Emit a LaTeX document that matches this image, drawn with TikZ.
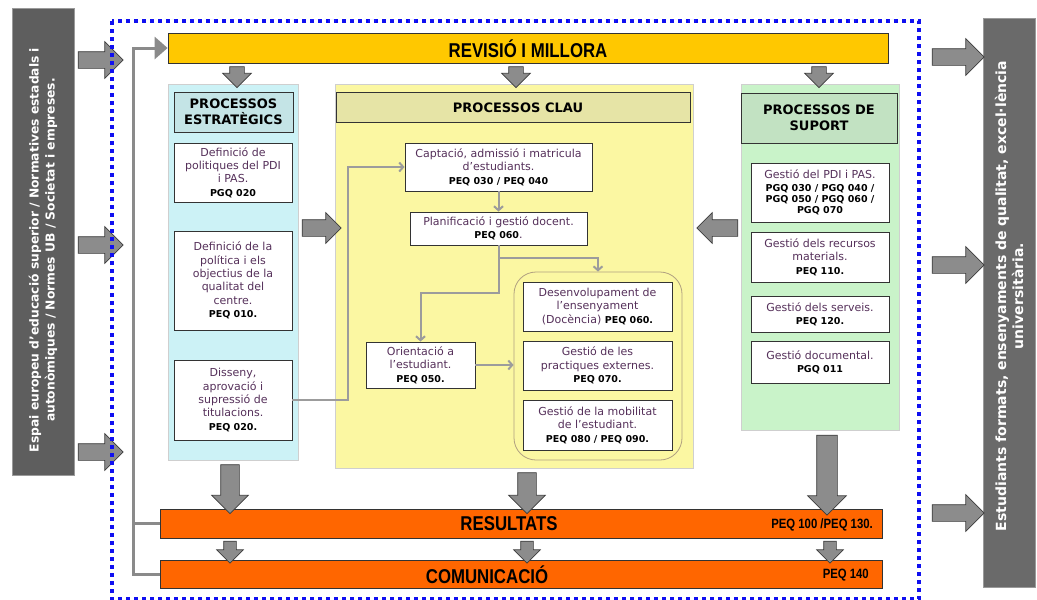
\documentclass[tikz,border=0pt]{standalone}
\usepackage{fontspec}
\setmainfont{DejaVu Sans}
\newfontfamily\barfont[FakeStretch=0.84]{Liberation Sans}
\usetikzlibrary{shapes.arrows,arrows.meta}
\definecolor{txtc}{HTML}{55305A}
\definecolor{boxline}{HTML}{333333}
\definecolor{lcolc}{HTML}{CCF2F6}
\definecolor{lhdrc}{HTML}{C4E4E6}
\definecolor{ccolc}{HTML}{FBF7A2}
\definecolor{chdrc}{HTML}{E6E4A6}
\definecolor{rcolc}{HTML}{C9F3C9}
\definecolor{rhdrc}{HTML}{C2E2C2}
\definecolor{colline}{HTML}{CFCFCF}
\definecolor{revc}{HTML}{FFC800}
\definecolor{orc}{HTML}{FF6600}
\definecolor{arrf}{HTML}{8C8C8C}
\definecolor{arrd}{HTML}{3C3C3C}
\definecolor{connc}{HTML}{9C9C9C}
\definecolor{lconnc}{HTML}{8A8A8A}
\definecolor{grpc}{HTML}{B0A080}
\definecolor{lbarc}{HTML}{5E5E5E}
\definecolor{rbarc}{HTML}{6A6A6A}
\definecolor{sbarline}{HTML}{9A9A9A}
\definecolor{dotc}{HTML}{1010F0}
\newcommand{\pc}[1]{{\fontsize{9.5}{13}\selectfont\bfseries\color{black}#1}}
\begin{document}
\begin{tikzpicture}[x=1pt,y=-1pt,
  colbox/.style={draw=colline, line width=0.6pt, inner sep=0pt},
  procbox/.style={draw=boxline, fill=white, line width=0.9pt, align=center, inner sep=1pt, font=\fontsize{11}{13.3}\selectfont, text=txtc},
  hdrbox/.style={draw=boxline, line width=0.9pt, align=center, inner sep=1pt, font=\fontsize{13}{16}\selectfont\bfseries, text=black},
  barbox/.style={draw=boxline, line width=0.8pt, inner sep=0pt},
  bartxt/.style={font=\barfont\fontsize{20}{22}\selectfont\bfseries, text=black, inner sep=0pt},
  codetxt/.style={font=\barfont\fontsize{13.5}{15}\selectfont\bfseries, text=black, inner sep=0pt},
  barrow/.style={single arrow, draw=arrd, fill=arrf, line width=0.7pt, inner xsep=0pt, single arrow head indent=0pt},
  varrow/.style={single arrow, draw=arrd, fill=arrf, line width=0.7pt, inner ysep=0pt, single arrow head indent=0pt, shape border rotate=270},
  conn/.style={draw=connc, line width=2pt, -{Straight Barb[length=4pt,width=9pt]}},
  sidebar/.style={line width=1pt, inner sep=0pt},
  sidetxt/.style={text=white, align=center, rotate=90}
]
\useasboundingbox (0,0) rectangle (1037,600);
\fill[white] (0,0) rectangle (1037,600);

% side bars
\node[sidebar, draw=sbarline, fill=lbarc, minimum width=62, minimum height=467] (lbar) at (43,241.5) {};
\node[sidetxt, font=\fontsize{12.3}{16}\selectfont\bfseries] (lbartxt) at (43,250) {Espai europeu d’educació superior / Normatives estadals i\\autonòmiques / Normes UB / Societat i empreses.};
\node[sidebar, draw=sbarline, fill=rbarc, minimum width=52, minimum height=569] (rbar) at (1009,302.5) {};
\node[sidetxt, font=\fontsize{14}{17}\selectfont\bfseries] (rbartxt) at (1009,296) {Estudiants formats, ensenyaments de qualitat, excel·lència\\universitària.};

% side arrows
\node[barrow, minimum height=45, inner ysep=8pt, single arrow head extend=10pt] (la1) at (96.5,60) {};
\node[barrow, minimum height=45, inner ysep=8pt, single arrow head extend=10pt] (la2) at (96.5,245) {};
\node[barrow, minimum height=45, inner ysep=8pt, single arrow head extend=10pt] (la3) at (96.5,452) {};
\node[barrow, minimum height=52, inner ysep=8pt, single arrow head extend=10pt] (ra1) at (954,57) {};
\node[barrow, minimum height=52, inner ysep=8pt, single arrow head extend=10pt] (ra2) at (954,265) {};
\node[barrow, minimum height=52, inner ysep=8pt, single arrow head extend=10pt] (ra3) at (954,513) {};

% blue dotted frame
\draw[dotc, line width=4pt, dash pattern=on 4pt off 4pt] (112,21) rectangle (919,599);

% columns
\node[colbox, fill=lcolc, minimum width=130, minimum height=376] (lcol) at (233,272) {};
\node[colbox, fill=ccolc, minimum width=358, minimum height=384] (ccol) at (514,276) {};
\node[colbox, fill=rcolc, minimum width=158, minimum height=346] (rcol) at (820,257) {};

% headers
\node[hdrbox, fill=lhdrc, minimum width=119, minimum height=40] (lhdr) at (233.5,112) {PROCESSOS\\ESTRATÈGICS};
\node[hdrbox, fill=chdrc, minimum width=354, minimum height=30] (chdr) at (513,107.5) {\hspace*{10pt}PROCESSOS CLAU};
\node[hdrbox, fill=rhdrc, minimum width=156, minimum height=50] (rhdr) at (819,118) {PROCESSOS DE\\SUPORT};

% strategic boxes
\node[procbox, minimum width=118, minimum height=59] (ls1) at (233,172.5) {Definició de\\politiques del PDI\\i PAS.\\\pc{PGQ 020}};
\node[procbox, minimum width=118, minimum height=99] (ls2) at (233,280.5) {Definició de la\\política i els\\objectius de la\\qualitat del\\centre.\\\pc{PEQ 010.}};
\node[procbox, minimum width=118, minimum height=80] (ls3) at (233,400) {Disseny,\\aprovació i\\supressió de\\titulacions.\\\pc{PEQ 020.}};

% key boxes
\node[procbox, minimum width=187, minimum height=48] (capt) at (498.5,167) {Captació, admissió i matricula\\d’estudiants.\\\pc{PEQ 030 / PEQ 040}};
\node[procbox, minimum width=177, minimum height=33] (plan) at (498.5,228.5) {Planificació i gestió docent.\\\pc{PEQ 060}.};
\node[procbox, minimum width=109, minimum height=46] (orient) at (420.5,365) {Orientació a\\l’estudiant.\\\pc{PEQ 050.}};
\node[draw=grpc, line width=0.8pt, rounded corners=22pt, minimum width=168, minimum height=188, inner sep=0pt] (grp) at (598,366) {};
\node[procbox, minimum width=149, minimum height=49] (des) at (597.5,306.5) {Desenvolupament de\\l’ensenyament\\(Docència) \pc{PEQ 060.}};
\node[procbox, minimum width=149, minimum height=49] (pra) at (597.5,365.5) {Gestió de les\\practiques externes.\\\pc{PEQ 070.}};
\node[procbox, minimum width=149, minimum height=50] (mob) at (597.5,425) {Gestió de la mobilitat\\de l’estudiant.\\\pc{PEQ 080 / PEQ 090.}};

% support boxes
\node[procbox, minimum width=138, minimum height=59] (r1) at (820,192.5) {Gestió del PDI i PAS.\\[-1pt]\pc{PGQ 030 / PGQ 040 /}\\[-2pt]\pc{PGQ 050 / PGQ 060 /}\\[-2pt]\pc{PGQ 070}};
\node[procbox, minimum width=138, minimum height=50] (r2) at (820,257) {Gestió dels recursos\\materials.\\\pc{PEQ 110.}};
\node[procbox, minimum width=138, minimum height=36] (r3) at (820,314) {Gestió dels serveis.\\\pc{PEQ 120.}};
\node[procbox, minimum width=138, minimum height=42] (r4) at (820,362) {Gestió documental.\\\pc{PGQ 011}};

% bars
\node[barbox, fill=revc, minimum width=720, minimum height=30] (rev) at (528,48) {};
\node[bartxt] (revtxt) at (528,48.5) {REVISIÓ I MILLORA};
\node[barbox, fill=orc, minimum width=722, minimum height=29] (res) at (521,523.5) {};
\node[bartxt] (restxt) at (509,524) {RESULTATS};
\node[codetxt, anchor=east] (rescode) at (873,525) {PEQ 100 /PEQ 130.};
\node[barbox, fill=orc, minimum width=722, minimum height=28] (com) at (521,574) {};
\node[bartxt] (comtxt) at (487,574.5) {COMUNICACIÓ};
\node[codetxt, anchor=east] (comcode) at (869,575.5) {PEQ 140};

% block arrows between parts
\node[varrow, minimum height=21, inner xsep=7pt, single arrow head extend=7pt] (da1) at (237,73.5) {};
\node[varrow, minimum height=21, inner xsep=7pt, single arrow head extend=7pt] (da2) at (516,73.5) {};
\node[varrow, minimum height=21, inner xsep=7pt, single arrow head extend=7pt] (da3) at (819,73.5) {};
\node[barrow, minimum height=39, inner ysep=8pt, single arrow head extend=7pt] (lc) at (317.5,228) {};
\node[barrow, minimum height=41, inner ysep=8pt, single arrow head extend=7pt, shape border rotate=180] (rc) at (721.5,228) {};
\node[varrow, minimum height=49, inner xsep=9pt, single arrow head extend=9pt] (db1) at (230,484.5) {};
\node[varrow, minimum height=41, inner xsep=9pt, single arrow head extend=9pt] (db2) at (527,488.5) {};
\node[varrow, minimum height=80, inner xsep=10pt, single arrow head extend=9pt] (db3) at (827,470) {};
\node[varrow, minimum height=22, inner xsep=6pt, single arrow head extend=7pt] (dc1) at (230,549) {};
\node[varrow, minimum height=22, inner xsep=6pt, single arrow head extend=7pt] (dc2) at (527,549) {};
\node[varrow, minimum height=22, inner xsep=6pt, single arrow head extend=7pt] (dc3) at (830,549) {};

% left feedback connector
\coordinate (ltop) at (133,48);
\draw[lconnc, line width=3pt, -{Triangle[length=13pt,width=22pt]}] (com.west) -| (ltop) -- (rev.west);
\draw[lconnc, line width=3pt] (res.west) -- (res.west -| ltop);

% thin connectors
\draw[conn] (capt.south) -- (plan.north);
\draw[conn] (plan.south) -- ++(0,13) -| (grp.north);
\draw[conn] (plan.south) -- ++(0,48) -| (orient.north);
\draw[conn] (orient.east) -- (orient.east -| grp.west);
\draw[conn] (ls3.east) -- ++(56,0) |- (capt.west);
\end{tikzpicture}
\end{document}
